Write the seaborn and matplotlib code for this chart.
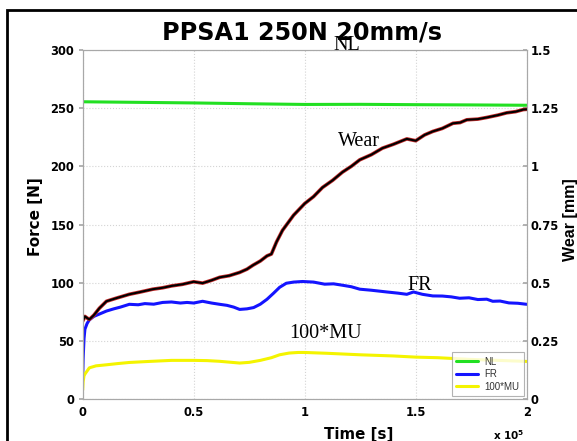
import numpy as np
import pandas as pd
import matplotlib
matplotlib.use("Agg")
import matplotlib.pyplot as plt
import matplotlib.patheffects as pe
from matplotlib.patches import Rectangle
import seaborn as sns

# ---------------- data (time in units of 1e5 s) ----------------
t_nl = [0.0, 0.25, 0.5, 0.75, 1.0, 1.25, 1.5, 1.75, 2.0]
nl = [255.5, 255.0, 254.5, 253.8, 253.2, 253.3, 253.0, 252.8, 252.5]

t_fr = [0, 0.002, 0.006, 0.01, 0.02, 0.03, 0.05, 0.075, 0.107, 0.14,
        0.17, 0.21, 0.25, 0.28, 0.32, 0.36, 0.40, 0.44, 0.47, 0.50,
        0.54, 0.58, 0.617, 0.65, 0.68, 0.707, 0.74, 0.77, 0.80, 0.83,
        0.86, 0.887, 0.917, 0.95, 0.99, 1.04, 1.09, 1.13, 1.17, 1.21,
        1.248, 1.3, 1.37, 1.42, 1.46, 1.49, 1.53, 1.577, 1.62, 1.66,
        1.698, 1.74, 1.78, 1.82, 1.847, 1.88, 1.92, 1.96, 2.0]
fr = [18, 35, 52, 60, 65, 68, 71, 73, 75.6, 77.5,
      79, 81.4, 81, 82, 81.5, 83, 83.4, 82.5, 83, 82.5,
      84, 82.5, 81.4, 80.5, 79, 77, 77.5, 78.6, 81.5, 85.7,
      91, 96, 99.5, 100.5, 101, 100.5, 98.7, 99, 97.8, 96.5,
      94.4, 93.5, 92, 91, 90, 92, 90, 88.6, 88.5, 87.8,
      86.6, 87, 85.5, 85.8, 84, 84.2, 82.6, 82.3, 81.4]

t_mu = [0, 0.002, 0.006, 0.012, 0.03, 0.06, 0.107, 0.16, 0.21, 0.3,
        0.4, 0.5, 0.56, 0.617, 0.707, 0.75, 0.8, 0.85, 0.887, 0.93,
        0.97, 1.0, 1.1, 1.25, 1.4, 1.5, 1.6, 1.75, 1.9, 2.0]
mu100 = [7.8, 15, 20, 22, 26.8, 28.5, 29.4, 30.5, 31.4, 32.3,
         33.2, 33.2, 33, 32.4, 30.9, 31.5, 33.2, 35.5, 38, 39.5,
         40, 40, 39.3, 38, 37, 36, 35.5, 34, 33, 32.3]

t_wear = [0, 0.01, 0.02, 0.03, 0.05, 0.075, 0.107, 0.15, 0.21, 0.26,
          0.316, 0.36, 0.40, 0.45, 0.5, 0.54, 0.58, 0.617, 0.66, 0.707,
          0.74, 0.767, 0.8, 0.83, 0.85, 0.873, 0.9, 0.95, 1.0, 1.04,
          1.08, 1.126, 1.17, 1.21, 1.248, 1.3, 1.35, 1.4, 1.46, 1.5,
          1.54, 1.577, 1.62, 1.668, 1.7, 1.73, 1.78, 1.82, 1.87, 1.91,
          1.95, 1.985, 2.0]
wear_mm = [0.335, 0.355, 0.348, 0.342, 0.36, 0.39, 0.42, 0.433, 0.45, 0.46,
           0.472, 0.478, 0.486, 0.493, 0.504, 0.498, 0.51, 0.523, 0.53, 0.544,
           0.558, 0.575, 0.593, 0.615, 0.623, 0.675, 0.725, 0.79, 0.84, 0.87,
           0.909, 0.94, 0.975, 1.0, 1.028, 1.05, 1.078, 1.095, 1.118, 1.11,
           1.135, 1.15, 1.163, 1.185, 1.188, 1.2, 1.203, 1.21, 1.22, 1.23,
           1.235, 1.244, 1.245]

x_ticks = [0, 0.5, 1, 1.5, 2]
x_ticklabels = ["0", "0.5", "1", "1.5", "2"]
force_ticks = [0, 50, 100, 150, 200, 250, 300]
wear_ticks = [0, 0.25, 0.5, 0.75, 1, 1.25, 1.5]
wear_ticklabels = ["0", "0.25", "0.5", "0.75", "1", "1.25", "1.5"]

# ---------------- figure ----------------
sns.set_theme(style="white")
plt.rcParams['font.family'] = ['DejaVu Sans']
plt.rcParams['text.color'] = 'black'
plt.rcParams['axes.labelcolor'] = 'black'

W, H = 577, 441
fig = plt.figure(figsize=(W / 100, H / 100), dpi=100)
ax = fig.add_axes([82.7 / W, 1 - 399 / H, (526.7 - 82.7) / W, (399 - 50) / H])
ax2 = ax.twinx()

sns.lineplot(x=t_nl, y=nl, ax=ax, color="#22e022", lw=2.2, label="NL")
sns.lineplot(x=t_fr, y=fr, ax=ax, color="#1414ff", lw=2.2, label="FR")
sns.lineplot(x=t_mu, y=mu100, ax=ax, color="#f4f400", lw=2.2, label="100*MU")
sns.lineplot(x=t_wear, y=wear_mm, ax=ax2, color="black", lw=1.5, legend=False,
             path_effects=[pe.Stroke(linewidth=2.6, foreground="#c42a2a"), pe.Normal()])

ax.set_xlim(0, 2)
ax.set_ylim(0, 300)
ax2.set_ylim(0, 1.5)
ax.set_xticks(x_ticks)
ax.set_xticklabels(x_ticklabels)
ax.set_yticks(force_ticks)
ax2.set_yticks(wear_ticks)
ax2.set_yticklabels(wear_ticklabels)

ax.grid(True, color="#d4d4d4", linestyle=":", lw=0.8)
for a in (ax, ax2):
    for s in a.spines.values():
        s.set_color("#a8a8a8")
        s.set_linewidth(0.8)
    a.tick_params(direction="in", length=3, color="#a8a8a8", labelsize=8.3, pad=3,
                  labelcolor="black")
    for lab in a.get_xticklabels() + a.get_yticklabels():
        lab.set_fontweight("bold")
ax.tick_params(axis="y", direction="out")
ax.tick_params(axis="x", pad=5)

ax.set_xlabel("Time [s]", fontsize=10.8, fontweight="bold")
ax.xaxis.set_label_coords((359 - 82.7) / 444, -(427 - 399) / 349)
ax.set_ylabel("Force [N]", fontsize=11, fontweight="bold")
ax.yaxis.set_label_coords(-(82.7 - 43) / 444, (399 - 217) / 349)
ax2.set_ylabel("Wear [mm]", family="Liberation Sans", fontsize=11.5, fontweight="bold")
ax2.yaxis.set_label_coords(1 + (562.5 - 526.7) / 444, (399 - 220) / 349)

fig.text(302 / W, 1 - 39.5 / H, "PPSA1 250N 20mm/s", ha="center", va="baseline",
         fontsize=17.2, fontweight="bold", color="black")
fig.text(493 / W, 1 - 435 / H, r"x 10$^\mathbf{5}$", ha="left", va="center",
         fontsize=7.5, fontweight="bold", color="black")

serif = ['Liberation Serif', 'DejaVu Serif']
ax.text(1.189, 304, "NL", family=serif, fontsize=14.5, ha="center", va="center", clip_on=False)
ax.text(1.243, 221, "Wear", family=serif, fontsize=14.5, ha="center", va="center")
ax.text(1.518, 97.2, "FR", family=serif, fontsize=14.5, ha="center", va="center")
ax.text(1.095, 56.7, "100*MU", family=serif, fontsize=14.5, ha="center", va="center")

leg = ax.legend(loc="lower right", prop={"family": "Liberation Sans", "size": 7},
                borderaxespad=0.3, handlelength=2.2, labelspacing=0.25, frameon=True,
                fancybox=False, borderpad=0.45, handletextpad=0.7)
leg.get_frame().set_edgecolor("#a0a0a0")
leg.get_frame().set_linewidth(0.8)
for txt in leg.get_texts():
    txt.set_color("#333333")

fig.patches.append(Rectangle((7 / W, -0.1), 1.2, 1 - 10 / H + 0.1, transform=fig.transFigure,
                             fill=False, edgecolor="black", lw=2, zorder=10))

fig.savefig("out.png", dpi=100)
